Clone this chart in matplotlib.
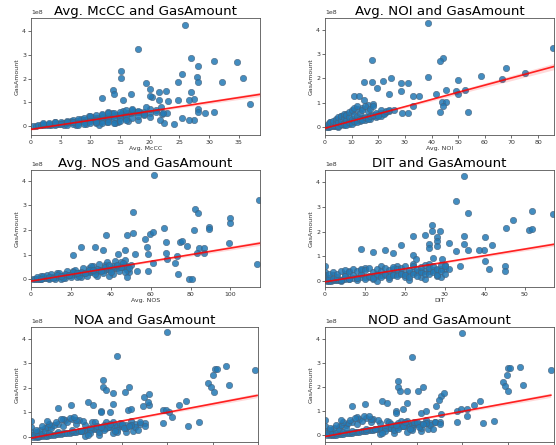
import matplotlib
matplotlib.use("Agg")
import matplotlib.pyplot as plt
import numpy as np

# ---------------- data (GasAmount in units of 1e8) ----------------
mccc_x = [0.3, 0.8, 1.2, 1.7, 2.1, 2.6, 3.0, 3.4, 3.9, 4.3, 4.8, 5.2, 5.6, 6.1, 6.5, 7.0, 7.4, 7.8,
          8.3, 8.7, 9.1, 9.6, 10.0, 10.4, 10.9, 11.3, 11.7, 12.2, 12.6, 13.0, 13.5, 13.9, 14.3, 14.8,
          15.2, 15.6, 16.1, 16.5, 16.9, 17.4, 17.8, 18.3,
          4.0, 5.5, 6.8, 7.6, 8.5, 9.3, 10.2, 11.0, 11.9, 12.8, 13.7, 14.6, 15.5, 16.3, 17.1, 18.0,
          19.0, 20.1, 21.0, 9.8, 11.4, 12.9, 14.1, 15.9,
          2, 2, 3, 3, 4, 4, 5, 5, 6, 6, 6, 7, 7, 7, 8, 8, 8, 9, 9, 9, 10, 10, 10, 11, 11, 11, 12, 12,
          12, 13, 13, 13, 14, 14, 14, 15, 15, 15, 16, 16, 16, 17, 17, 18, 18, 19, 19, 20, 20, 21, 22, 23,
          26.0, 18.1, 26.9, 30.9, 34.7, 28.1, 15.1, 15.1, 25.5, 28.0, 28.1, 24.7, 32.2, 35.8, 19.4,
          20.0, 13.9, 14.0, 16.9, 12.0, 20.4, 21.5, 22.8, 20.0, 26.9, 27.4, 26.6, 24.7, 23.1, 21.5,
          15.5, 28.1, 28.1, 29.3, 30.9, 27.4, 26.7, 25.4, 24.1, 22.4, 21.7, 36.9, 19.3, 21.9, 22.2]
mccc_y = [0.00, 0.01, 0.02, 0.02, 0.03, 0.04, 0.05, 0.05, 0.06, 0.08, 0.09, 0.10, 0.12, 0.13, 0.14,
          0.16, 0.18, 0.20, 0.21, 0.23, 0.25, 0.27, 0.28, 0.30, 0.32, 0.34, 0.35, 0.37, 0.38, 0.40,
          0.41, 0.43, 0.45, 0.47, 0.48, 0.50, 0.52, 0.53, 0.55, 0.57, 0.58, 0.60,
          0.15, 0.03, 0.22, 0.05, 0.30, 0.08, 0.38, 0.12, 0.45, 0.15, 0.52, 0.18, 0.62, 0.22, 0.68,
          0.25, 0.45, 0.55, 0.65, 0.42, 0.05, 0.58, 0.10, 0.35,
          0.06, 0.10, 0.08, 0.12, 0.02, 0.15, 0.18, 0.06, 0.04, 0.20, 0.14, 0.24, 0.08, 0.18, 0.28,
          0.12, 0.02, 0.32, 0.16, 0.08, 0.40, 0.20, 0.12, 0.44, 0.24, 0.16, 0.48, 0.22, 0.10, 0.52,
          0.30, 0.18, 0.56, 0.28, 0.12, 0.60, 0.34, 0.22, 0.66, 0.40, 0.26, 0.70, 0.32, 0.64, 0.40,
          0.58, 0.48, 0.70, 0.38, 0.60, 0.50, 0.55,
          4.25, 3.23, 2.86, 2.75, 2.70, 2.51, 2.30, 2.02, 2.19, 2.08, 1.87, 1.84, 1.87, 2.02, 1.80,
          1.56, 1.53, 1.35, 1.35, 1.17, 1.21, 1.42, 1.46, 1.28, 1.42, 1.14, 1.10, 1.07, 1.03, 1.07,
          1.07, 0.72, 0.59, 0.52, 0.59, 0.24, 0.24, 0.31, 0.06, 0.10, 0.24, 0.93, 0.79, 0.79, 0.52]

noi_x = [0.5, 1.0, 1.5, 2.0, 3.0, 3.5, 4.0, 4.5, 5.0, 5.5, 6.0, 6.5, 7.0, 7.5, 8.0, 8.5, 9.0, 9.5,
         10.0, 10.5, 11.0, 11.5, 12.0, 12.5, 13.0, 13.5, 14.0, 14.5, 15.0, 16.0, 17.0, 18.0, 19.0,
         20.0, 21.0, 22.0, 23.0, 24.0,
         2.0, 4.0, 5.0, 6.0, 7.0, 8.0, 9.0, 10.0, 11.0, 12.0, 13.0, 14.0, 15.0, 16.0, 17.0, 18.0,
         19.0, 20.0, 21.0, 22.0,
         1, 1, 2, 2, 3, 3, 4, 4, 5, 5, 5, 6, 6, 6, 7, 7, 7, 8, 8, 8, 9, 9, 9, 10, 10, 10, 11, 11, 11,
         12, 12, 12, 13, 13, 14, 14, 15, 15, 16, 16, 17, 17, 18, 18, 19, 20, 21, 22, 23, 24,
         38.6, 44.2, 43.0, 17.8, 38.6, 49.9, 58.7, 67.8, 66.6, 75.0, 85.7, 14.7, 17.8, 21.6, 24.7,
         28.5, 31.0, 19.7, 24.0, 28.5, 32.9, 35.4, 41.5, 45.5, 49.3, 49.9, 52.4, 44.0, 45.5, 32.9,
         44.2, 43.0, 53.6, 29.1, 31.0, 25.9, 10.9, 12.8, 14.7]
noi_y = [0.00, 0.01, 0.02, 0.03, 0.04, 0.05, 0.06, 0.08, 0.09, 0.10, 0.12, 0.13, 0.15, 0.16, 0.18,
         0.19, 0.21, 0.22, 0.24, 0.25, 0.27, 0.28, 0.30, 0.31, 0.33, 0.34, 0.36, 0.37, 0.39, 0.42,
         0.45, 0.48, 0.51, 0.54, 0.57, 0.60, 0.63, 0.66,
         0.20, 0.30, 0.02, 0.45, 0.10, 0.55, 0.15, 0.65, 0.20, 0.75, 0.25, 0.80, 0.30, 0.90, 0.35,
         0.95, 0.40, 0.50, 0.45, 0.60,
         0.08, 0.15, 0.05, 0.20, 0.10, 0.25, 0.18, 0.32, 0.05, 0.22, 0.40, 0.12, 0.30, 0.48, 0.18,
         0.38, 0.55, 0.10, 0.28, 0.50, 0.20, 0.42, 0.62, 0.15, 0.35, 0.70, 0.25, 0.50, 0.78, 0.22,
         0.45, 0.85, 0.35, 0.60, 0.30, 0.70, 0.40, 0.88, 0.35, 0.65, 0.45, 0.75, 0.50, 0.85, 0.60,
         0.45, 0.70, 0.55, 0.65, 0.72,
         4.27, 2.83, 2.70, 2.77, 2.08, 1.95, 2.11, 2.42, 1.97, 2.22, 3.25, 1.84, 1.84, 1.90, 2.00,
         1.81, 1.81, 1.60, 1.36, 1.47, 1.26, 1.29, 1.36, 1.53, 1.47, 1.36, 1.53, 1.05, 1.05, 0.85,
         0.85, 0.64, 0.64, 0.58, 0.58, 0.71, 1.26, 1.26, 1.12]

nos_x = [1, 2, 3, 4, 5, 6, 7, 8, 9, 10, 11, 12, 13, 14, 15, 16, 17, 18, 19, 20, 21, 22, 23, 24, 25,
         26, 27, 28, 29, 30, 31, 32, 33, 34, 35, 36, 37, 38, 39, 40, 41, 42, 43, 44, 45, 46, 47, 48,
         5, 9, 13, 17, 21, 25, 29, 33, 37, 41, 45, 49, 15, 23, 31, 39, 47,
         3, 6, 8, 10, 12, 14, 16, 18, 20, 22, 24, 26, 28, 30, 32, 34, 36, 38, 40, 42, 44, 46, 48, 50,
         5, 9, 13, 17, 21, 25, 29, 33, 37, 41, 45, 49, 11, 19, 27, 35, 43, 15, 23, 31, 39, 47,
         61.7, 50.9, 82.0, 83.5, 114.3, 99.7, 99.7, 89.1, 89.1, 81.5, 66.9, 37.8, 47.9, 50.9, 59.7,
         61.3, 57.1, 67.5, 74.5, 75.6, 78.2, 99.2, 84.0, 86.6, 83.2, 86.6, 21.0, 25.2, 31.9, 36.1,
         43.7, 47.1, 52.1, 58.0, 58.8, 67.5, 73.1, 68.1, 72.3, 61.3, 113.4, 52.9, 58.8, 73.9, 79.0,
         80.7, 47.9]
nos_y = [0.00, 0.01, 0.02, 0.02, 0.03, 0.04, 0.05, 0.06, 0.06, 0.08, 0.09, 0.10, 0.11, 0.12, 0.13,
         0.14, 0.15, 0.17, 0.18, 0.19, 0.20, 0.21, 0.22, 0.24, 0.25, 0.26, 0.27, 0.28, 0.30, 0.31,
         0.32, 0.33, 0.35, 0.36, 0.37, 0.38, 0.40, 0.41, 0.42, 0.44, 0.45, 0.46, 0.48, 0.49, 0.50,
         0.52, 0.53, 0.55,
         0.12, 0.02, 0.25, 0.05, 0.35, 0.08, 0.45, 0.12, 0.60, 0.20, 0.70, 0.30, 0.02, 0.10, 0.55,
         0.15, 0.80,
         0.08, 0.12, 0.16, 0.20, 0.03, 0.26, 0.06, 0.32, 0.08, 0.38, 0.12, 0.45, 0.14, 0.55, 0.20,
         0.62, 0.24, 0.70, 0.28, 0.75, 0.35, 0.66, 0.40, 0.58,
         0.02, 0.10, 0.16, 0.22, 0.28, 0.30, 0.36, 0.42, 0.50, 0.55, 0.50, 0.45, 0.05, 0.18, 0.25,
         0.35, 0.60, 0.12, 0.25, 0.40, 0.60, 0.30,
         4.23, 2.73, 2.84, 2.70, 3.21, 2.50, 2.28, 2.14, 2.03, 2.02, 2.09, 1.80, 1.80, 1.87, 1.84,
         1.91, 1.64, 1.50, 1.50, 1.57, 1.37, 1.47, 1.27, 1.27, 1.09, 1.09, 1.00, 1.30, 1.30, 1.19,
         1.02, 1.19, 1.02, 1.30, 1.02, 1.09, 0.96, 0.82, 0.68, 0.68, 0.61, 0.34, 0.34, 0.23, 0.03,
         0.03, 0.10]

dit_x = [0, 0, 0, 0.5, 1, 1.5, 2, 2.5, 3, 3.5, 4, 4.5, 5, 6, 7, 8, 9, 10, 11, 12, 13, 14, 15, 16,
         17, 18, 19, 20, 21, 22, 23, 24, 25, 26, 27, 28, 29, 30, 31,
         2, 4, 6, 8, 10, 12, 14, 16, 18, 20, 22, 24, 26, 28, 30, 5, 9, 13, 17, 21, 25, 29,
         0, 0, 1, 1, 2, 2, 3, 3, 4, 4, 5, 5, 6, 6, 7, 7, 8, 8, 9, 9, 10, 10, 11, 11, 12, 12, 13, 13,
         14, 14, 15, 15, 16, 16, 17, 17, 18, 18, 19, 19, 20, 20, 21, 21, 22, 22, 23, 23, 24, 24,
         25, 25, 26, 26, 27, 27, 28, 28, 29, 29, 30, 30,
         34.9, 32.9, 35.8, 51.8, 57.1, 47.0, 45.2, 51.0, 51.8, 26.8, 26.8, 28.9, 34.9, 40.0, 22.0,
         24.9, 28.1, 28.1, 28.1, 26.0, 26.0, 18.9, 31.0, 34.9, 41.8, 39.8, 38.5, 35.8, 32.9, 8.9,
         12.0, 15.0, 17.0, 22.1, 22.7, 27.0, 29.3, 33.9, 40.0, 41.0, 45.0, 45.0]
dit_y = [0.60, 0.35, 0.15, 0.00, 0.01, 0.02, 0.03, 0.04, 0.05, 0.05, 0.06, 0.07, 0.08, 0.10, 0.11,
         0.13, 0.15, 0.17, 0.18, 0.20, 0.21, 0.23, 0.25, 0.26, 0.28, 0.30, 0.31, 0.33, 0.34, 0.36,
         0.38, 0.39, 0.41, 0.42, 0.44, 0.46, 0.47, 0.49, 0.50,
         0.25, 0.02, 0.40, 0.05, 0.55, 0.08, 0.60, 0.10, 0.62, 0.15, 0.68, 0.18, 0.70, 0.22, 0.65,
         0.30, 0.45, 0.02, 0.50, 0.05, 0.10, 0.15,
         0.05, 0.25, 0.12, 0.30, 0.08, 0.35, 0.15, 0.28, 0.05, 0.40, 0.20, 0.45, 0.10, 0.35, 0.25,
         0.48, 0.12, 0.40, 0.30, 0.50, 0.08, 0.45, 0.22, 0.52, 0.12, 0.38, 0.28, 0.50, 0.15, 0.42,
         0.30, 0.55, 0.18, 0.45, 0.25, 0.58, 0.20, 0.48, 0.30, 0.55, 0.25, 0.60, 0.18, 0.45, 0.30,
         0.62, 0.22, 0.50, 0.35, 0.58, 0.28, 0.65, 0.30, 0.55, 0.35, 0.62, 0.25, 0.50, 0.40, 0.66,
         0.30, 0.60,
         4.27, 3.23, 2.74, 2.85, 2.71, 2.49, 2.17, 2.07, 2.10, 2.26, 2.03, 2.01, 1.82, 1.79, 1.82,
         1.87, 1.79, 1.63, 1.42, 1.49, 1.36, 1.46, 1.53, 1.49, 1.45, 1.25, 1.26, 1.25, 1.22, 1.29,
         1.19, 1.25, 1.13, 1.06, 0.88, 0.95, 0.88, 0.61, 0.81, 0.47, 0.61, 0.41]

noa_x = [0, 0, 0, 1, 2, 3, 4, 5, 6, 7, 8, 9, 10, 11, 12, 13, 14, 15, 16, 17, 18, 19, 20, 21, 22,
         23, 24, 25, 26, 27, 28, 29, 30, 31, 32, 33, 34, 35, 36, 37, 38, 39, 40, 42, 44, 46, 48, 50,
         3, 6, 9, 12, 15, 18, 21, 24, 27, 30, 33, 36, 39, 42, 45,
         1, 2, 3, 4, 5, 6, 7, 8, 9, 10, 12, 14, 16, 18, 20, 22, 24, 26, 28, 30, 32, 34, 36, 38, 40,
         42, 44, 46, 48, 50, 2, 5, 8, 11, 14, 17, 20, 23, 26, 29, 32, 35, 38, 41, 44, 47,
         7, 13, 19, 25, 31, 37, 43,
         60.1, 37.8, 98.8, 85.7, 81.0, 82.0, 80.3, 78.1, 79.1, 80.6, 87.4, 31.9, 31.9, 33.1, 36.1,
         43.1, 41.2, 36.1, 25.1, 27.3, 17.8, 11.9, 30.9, 30.9, 34.6, 42.6, 44.0, 49.2, 52.1, 51.4,
         49.9, 52.1, 58.0, 59.5, 60.9, 65.3, 68.2, 58.0, 62.3, 69.3, 74.0]
noa_y = [0.65, 0.40, 0.20, 0.00, 0.01, 0.02, 0.03, 0.04, 0.05, 0.06, 0.08, 0.09, 0.10, 0.11, 0.12,
         0.13, 0.15, 0.16, 0.17, 0.18, 0.20, 0.21, 0.22, 0.23, 0.25, 0.26, 0.27, 0.28, 0.30, 0.31,
         0.32, 0.33, 0.35, 0.36, 0.37, 0.38, 0.40, 0.41, 0.42, 0.43, 0.45, 0.46, 0.47, 0.49, 0.50,
         0.52, 0.54, 0.56,
         0.20, 0.35, 0.45, 0.55, 0.68, 0.72, 0.70, 0.05, 0.62, 0.10, 0.60, 0.15, 0.58, 0.20, 0.25,
         0.10, 0.20, 0.05, 0.30, 0.12, 0.25, 0.40, 0.15, 0.35, 0.50, 0.20, 0.45, 0.60, 0.30, 0.55,
         0.25, 0.48, 0.35, 0.60, 0.22, 0.50, 0.40, 0.62, 0.30, 0.55, 0.35, 0.65, 0.40, 0.60, 0.45,
         0.30, 0.45, 0.55, 0.62, 0.75, 0.78, 0.70, 0.65, 0.15, 0.45, 0.30, 0.55, 0.20, 0.35, 0.50,
         0.30, 0.65, 0.72, 0.80, 0.10, 0.40, 0.25, 0.45,
         4.27, 3.28, 2.71, 2.87, 2.78, 2.78, 2.54, 2.20, 2.03, 1.83, 2.10, 2.31, 2.03, 1.90, 1.80,
         2.03, 1.83, 1.36, 1.42, 1.29, 1.32, 1.20, 1.06, 1.00, 1.03, 1.09, 1.15, 1.25, 1.29, 1.42,
         1.63, 1.76, 1.09, 1.09, 1.03, 1.29, 1.45, 0.57, 0.81, 0.47, 0.61]

nod_x = [0, 0, 0, 1, 2, 3, 4, 5, 6, 7, 8, 9, 10, 11, 12, 13, 14, 15, 16, 17, 18, 19, 20, 21, 22,
         23, 24, 25, 26, 27, 28, 29, 30, 31, 32, 33, 34, 35, 36, 37, 38, 39, 40, 42, 44, 46, 48, 50,
         3, 6, 9, 12, 15, 18, 21, 24, 27, 30, 33, 36, 39, 42, 45,
         1, 2, 3, 4, 5, 6, 7, 8, 9, 10, 12, 14, 16, 18, 20, 22, 24, 26, 28, 30, 32, 34, 36, 38, 40,
         42, 44, 46, 48, 50, 2, 5, 8, 11, 14, 17, 20, 23, 26, 29, 32, 35, 38, 41, 44, 47,
         7, 13, 19, 25, 31, 37, 43,
         60.0, 38.0, 98.6, 85.2, 80.1, 80.9, 79.4, 77.7, 78.4, 79.9, 86.6, 31.7, 31.7, 32.7, 36.0,
         42.7, 40.6, 35.8, 24.7, 26.9, 11.8, 17.6, 30.8, 30.8, 34.1, 42.0, 44.2, 48.5, 50.6, 49.6,
         52.1, 50.6, 57.8, 59.3, 62.2, 65.0, 67.9, 57.8, 61.9, 69.0, 73.7]
nod_y = [0.65, 0.40, 0.20, 0.00, 0.01, 0.02, 0.03, 0.04, 0.05, 0.06, 0.08, 0.09, 0.10, 0.11, 0.12,
         0.13, 0.15, 0.16, 0.17, 0.18, 0.20, 0.21, 0.22, 0.23, 0.25, 0.26, 0.27, 0.28, 0.30, 0.31,
         0.32, 0.33, 0.35, 0.36, 0.37, 0.38, 0.40, 0.41, 0.42, 0.43, 0.45, 0.46, 0.47, 0.49, 0.50,
         0.52, 0.54, 0.56,
         0.20, 0.35, 0.45, 0.55, 0.68, 0.72, 0.70, 0.05, 0.62, 0.10, 0.60, 0.15, 0.58, 0.20, 0.25,
         0.12, 0.22, 0.06, 0.32, 0.10, 0.28, 0.42, 0.15, 0.33, 0.52, 0.18, 0.47, 0.62, 0.28, 0.55,
         0.27, 0.50, 0.33, 0.58, 0.24, 0.52, 0.38, 0.60, 0.32, 0.57, 0.33, 0.66, 0.42, 0.58, 0.47,
         0.32, 0.43, 0.57, 0.64, 0.76, 0.80, 0.68, 0.63, 0.17, 0.47, 0.28, 0.57, 0.22, 0.37, 0.52,
         0.28, 0.66, 0.74, 0.82, 0.12, 0.42, 0.27, 0.47,
         4.27, 3.25, 2.71, 2.85, 2.78, 2.78, 2.51, 2.20, 2.06, 1.83, 2.10, 2.28, 2.03, 1.83, 1.83,
         2.03, 1.83, 1.36, 1.45, 1.36, 1.22, 1.29, 1.02, 0.95, 1.08, 0.95, 1.02, 1.22, 1.63, 1.49,
         1.76, 0.88, 1.02, 1.08, 1.08, 1.26, 1.45, 0.54, 0.81, 0.50, 0.61]

# fitted regression line: value at x=0 and at the right axis limit
fit_y_start = [-0.15, -0.04, -0.07, -0.03, -0.04, -0.04]
fit_y_end = [1.33, 2.49, 1.47, 1.49, 1.69, 1.67]
# confidence band half-widths at left end, at cluster centre, at right end
band_x_mid = [10, 10, 25, 15, 25, 25]
band_w = [(0.04, 0.02, 0.09), (0.03, 0.02, 0.13), (0.03, 0.02, 0.09),
          (0.03, 0.02, 0.08), (0.03, 0.02, 0.09), (0.03, 0.02, 0.09)]

titles = ["Avg. McCC and GasAmount", "Avg. NOI and GasAmount",
          "Avg. NOS and GasAmount", "DIT and GasAmount",
          "NOA and GasAmount", "NOD and GasAmount"]
xlabels = ["Avg. McCC", "Avg. NOI", "Avg. NOS", "DIT", "NOA", "NOD"]
series = [(mccc_x, mccc_y), (noi_x, noi_y), (nos_x, nos_y),
          (dit_x, dit_y), (noa_x, noa_y), (nod_x, nod_y)]
x_ticks = [[0, 5, 10, 15, 20, 25, 30, 35], [0, 10, 20, 30, 40, 50, 60, 70, 80],
           [0, 20, 40, 60, 80, 100], [0, 10, 20, 30, 40, 50],
           [0, 20, 40, 60, 80, 100], [0, 20, 40, 60, 80, 100]]
x_max = [38.6, 86.0, 114.8, 57.3, 99.6, 98.6]
y_lims = [(-0.39, 4.56), (-0.32, 4.48), (-0.31, 4.44), (-0.24, 4.5), (-0.2, 4.47), (-0.27, 4.5)]

# ---------------- layout (pixel boxes: left, right, top, bottom) ----------------
W, H = 556, 445
boxes = [(31, 260, 18, 135), (325, 554, 18, 135),
         (31, 260, 170, 287), (325, 554, 170, 287),
         (31, 258, 327, 442), (325, 554, 327, 442)]

fig = plt.figure(figsize=(W / 100, H / 100), dpi=100)
for i, (l, r, t, b) in enumerate(boxes):
    ax = fig.add_axes([l / W, 1 - b / H, (r - l) / W, (b - t) / H])
    x = np.array(series[i][0], dtype=float)
    y = np.array(series[i][1], dtype=float) * 1e8
    ax.scatter(x, y, s=21, alpha=0.85, color="#2279b5", linewidths=0.45,
               edgecolors="#4a6078", zorder=2)
    lx = np.array([0, x_max[i]])
    ly = np.array([fit_y_start[i], fit_y_end[i]]) * 1e8
    bx = np.array([0, band_x_mid[i], x_max[i]])
    by = np.interp(bx, lx, ly)
    bw = np.array(band_w[i]) * 1e8
    ax.fill_between(bx, by - bw, by + bw, color="red", alpha=0.15, lw=0, zorder=3)
    ax.plot(lx, ly, color="red", lw=1.2, alpha=0.85, zorder=4)
    ax.set_xlim(0, x_max[i])
    ax.set_ylim(y_lims[i][0] * 1e8, y_lims[i][1] * 1e8)
    ax.set_xticks(x_ticks[i])
    ax.set_yticks(np.arange(0, 5) * 1e8)
    ax.set_title(titles[i], fontsize=9.6, pad=1.5)
    ax.set_ylabel("GasAmount", fontsize=4.5, labelpad=2, color="#333333")
    ax.tick_params(labelsize=4.5, length=2, width=0.5, pad=1.5, colors="#333333")
    if i < 4:
        ax.set_xlabel(xlabels[i], fontsize=4.5, labelpad=1, color="#333333")
    else:
        ax.tick_params(axis="x", labelbottom=False)
    ax.yaxis.get_offset_text().set_fontsize(4.5)
    for s in ax.spines.values():
        s.set_linewidth(0.6)
        s.set_color("#555555")

fig.savefig("out.png", dpi=100)
